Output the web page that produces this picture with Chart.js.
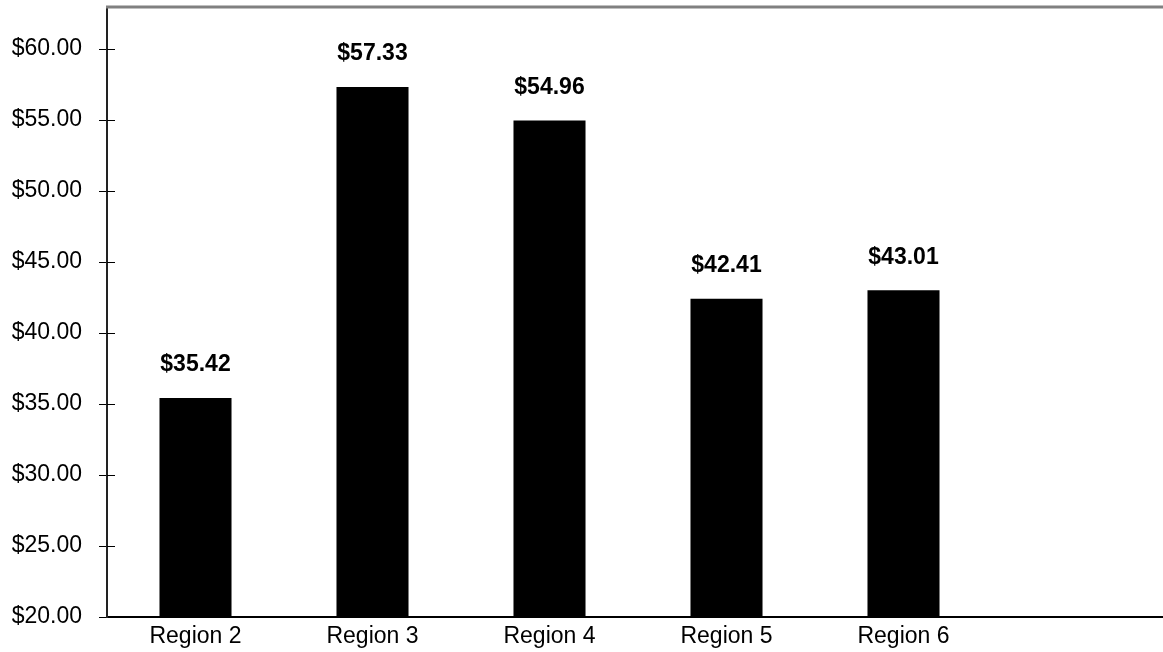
<!DOCTYPE html>
<html>
<head>
<meta charset="utf-8">
<script src="https://cdn.jsdelivr.net/npm/chart.js@4"></script>
<style>
  html, body { margin: 0; padding: 0; background: #fff; overflow: hidden; }
  #wrap { position: relative; width: 1169px; height: 652px; }
</style>
</head>
<body>
<div id="wrap"><canvas id="c"></canvas></div>
<script>
// Average price by region
const categories = ['Region 2', 'Region 3', 'Region 4', 'Region 5', 'Region 6', ''];
const prices = [35.42, 57.33, 54.96, 42.41, 43.01, null];
const yMin = 20;
const yMax = 62.96;
const yStep = 5;

const FONT = '"Liberation Sans", Arial, sans-serif';

const money = v => '$' + Number(v).toFixed(2);

// Value labels above each bar
const valueLabels = {
  id: 'valueLabels',
  afterDatasetsDraw(chart) {
    const ctx = chart.ctx;
    const meta = chart.getDatasetMeta(0);
    ctx.save();
    ctx.font = 'bold 23px ' + FONT;
    ctx.fillStyle = '#000';
    ctx.textAlign = 'center';
    ctx.textBaseline = 'middle';
    meta.data.forEach((bar, i) => {
      const v = prices[i];
      if (v == null) return;
      ctx.fillText(money(v), bar.x, bar.y - 33);
    });
    ctx.restore();
  }
};

// Plot frame top edge and the inner half of the y-axis tick marks
const frame = {
  id: 'frame',
  afterDraw(chart) {
    const { ctx, chartArea } = chart;
    const y = chart.scales.y;
    ctx.save();
    ctx.strokeStyle = '#808080';
    ctx.lineWidth = 3;
    ctx.beginPath();
    ctx.moveTo(chartArea.left - 1, chartArea.top);
    ctx.lineTo(chart.width, chartArea.top);
    ctx.stroke();
    ctx.strokeStyle = '#000';
    ctx.lineWidth = 1;
    y.ticks.forEach(t => {
      if (t.value === yMin) return;
      const py = Math.round(y.getPixelForValue(t.value)) + 0.5;
      ctx.beginPath();
      ctx.moveTo(y.right, py);
      ctx.lineTo(y.right + 8, py);
      ctx.stroke();
    });
    ctx.restore();
  }
};

new Chart(document.getElementById('c'), {
  type: 'bar',
  data: {
    labels: categories,
    datasets: [{
      data: prices,
      backgroundColor: '#000',
      borderWidth: 0,
      barPercentage: 0.407,
      categoryPercentage: 1.0
    }]
  },
  options: {
    responsive: true,
    maintainAspectRatio: false,
    animation: false,
    layout: { padding: { top: 7, left: 0, right: 0, bottom: 0 } },
    plugins: { legend: { display: false }, tooltip: { enabled: false } },
    scales: {
      x: {
        position: 'bottom',
        grid: { display: false, drawTicks: false },
        border: { color: '#000', width: 2 },
        ticks: { color: '#000', font: { family: FONT, size: 23 }, padding: 6, maxRotation: 0, autoSkip: false },
        afterFit(s) { s.height = 35; s.paddingLeft = 0; s.paddingRight = 0; }
      },
      y: {
        min: yMin,
        max: yMax,
        grid: { drawOnChartArea: false, color: '#000', tickLength: 8, tickColor: '#000' },
        border: { color: '#222', width: 2 },
        ticks: {
          stepSize: yStep,
          color: '#000',
          padding: 17,
          font: { family: FONT, size: 23 },
          callback: v => money(v)
        },
        afterBuildTicks(s) { s.ticks = s.ticks.filter(t => Math.abs(t.value % yStep) < 1e-9); },
        afterFit(s) { s.width = 107; s.paddingTop = 0; s.paddingBottom = 0; }
      }
    }
  },
  plugins: [valueLabels, frame]
});
</script>
</body>
</html>
